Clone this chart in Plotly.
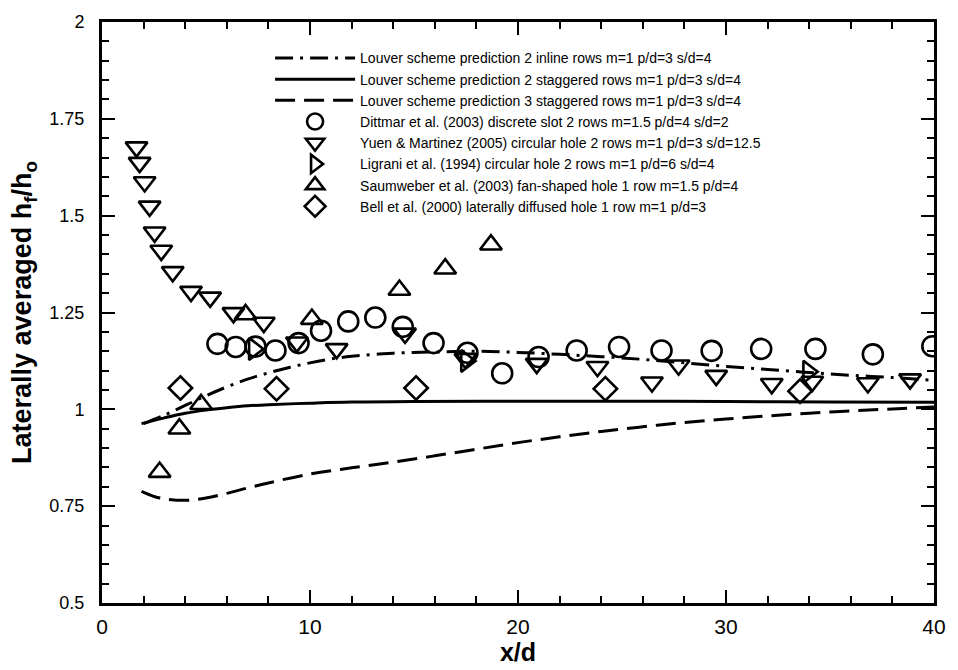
import plotly.graph_objects as go

# ---- Louver scheme predictions (x/d vs laterally averaged h_f/h_o) ----
inline2_x = [2, 3, 4, 5, 6, 7, 8, 9, 10, 11, 12, 14, 16, 18, 20, 22, 24, 26, 28, 30, 32, 34, 36, 38, 40]
inline2_y = [0.963, 0.985, 1.010, 1.035, 1.058, 1.078, 1.094, 1.108, 1.120, 1.130, 1.137, 1.145, 1.148,
             1.150, 1.147, 1.142, 1.136, 1.129, 1.120, 1.111, 1.103, 1.095, 1.088, 1.082, 1.075]

stag2_x = [1.9, 3, 4, 5, 6, 7, 8, 10, 12, 15, 20, 25, 30, 35, 40]
stag2_y = [0.963, 0.978, 0.990, 0.998, 1.004, 1.009, 1.012, 1.016, 1.019, 1.020, 1.021, 1.021, 1.020, 1.019, 1.018]

stag3_x = [1.9, 2.5, 3, 4, 5, 6, 7, 8, 10, 12, 14, 16, 18, 20, 22, 24, 26, 28, 30, 32, 34, 36, 38, 40]
stag3_y = [0.788, 0.775, 0.769, 0.765, 0.771, 0.783, 0.797, 0.810, 0.833, 0.849, 0.864, 0.880, 0.897,
           0.914, 0.929, 0.943, 0.955, 0.966, 0.975, 0.983, 0.990, 0.996, 1.001, 1.006]

# ---- Experimental data ----
dittmar_x = [5.55, 6.43, 7.38, 8.34, 9.45, 10.53, 11.84, 13.14, 14.46, 15.94, 17.57, 19.24, 20.99,
             22.82, 24.86, 26.9, 29.31, 31.69, 34.3, 37.06, 39.92]
dittmar_y = [1.169, 1.161, 1.162, 1.152, 1.171, 1.203, 1.227, 1.237, 1.213, 1.171, 1.146, 1.093, 1.135,
             1.152, 1.161, 1.152, 1.151, 1.156, 1.156, 1.142, 1.163]

yuen_x = [1.66, 1.81, 2.05, 2.29, 2.53, 2.85, 3.40, 4.28, 5.20, 6.32, 7.78, 9.37, 11.28, 14.57, 17.47,
          20.9, 23.82, 26.44, 27.72, 29.53, 32.2, 34.15, 36.82, 38.85]
yuen_y = [1.677, 1.637, 1.587, 1.524, 1.457, 1.410, 1.355, 1.304, 1.289, 1.249, 1.224, 1.173, 1.156,
          1.196, 1.131, 1.118, 1.110, 1.070, 1.114, 1.087, 1.066, 1.072, 1.068, 1.078]

ligrani_x = [7.30, 17.5, 33.95]
ligrani_y = [1.156, 1.125, 1.097]

saum_x = [2.77, 3.72, 4.76, 6.9, 10.09, 14.3, 16.5, 18.7]
saum_y = [0.838, 0.950, 1.013, 1.245, 1.233, 1.308, 1.363, 1.425]

bell_x = [3.77, 8.39, 15.1, 24.2, 33.56]
bell_y = [1.055, 1.053, 1.055, 1.053, 1.047]

names = [
    "Louver scheme prediction 2 inline rows m=1 p/d=3 s/d=4",
    "Louver scheme prediction 2 staggered rows m=1 p/d=3 s/d=4",
    "Louver scheme prediction 3 staggered rows m=1 p/d=3 s/d=4",
    "Dittmar et al. (2003) discrete slot 2 rows m=1.5 p/d=4 s/d=2",
    "Yuen & Martinez (2005) circular hole 2 rows m=1 p/d=3 s/d=12.5",
    "Ligrani et al. (1994) circular hole 2 rows m=1 p/d=6 s/d=4",
    "Saumweber et al. (2003) fan-shaped hole 1 row m=1.5 p/d=4",
    "Bell et al. (2000) laterally diffused hole 1 row m=1 p/d=3",
]

INK = "black"
FONT = "Liberation Sans, Arial, Helvetica, sans-serif"
fig = go.Figure()

def add_line(x, y, name, dash):
    fig.add_trace(go.Scatter(x=x, y=y, mode="lines", name=name,
                             line=dict(color=INK, width=3, dash=dash, shape="spline")))

def add_markers(x, y, name, symbol, size):
    fig.add_trace(go.Scatter(x=x, y=y, mode="markers", name=name,
                             marker=dict(symbol=symbol, size=size, color=INK,
                                         line=dict(color=INK, width=2.6))))

add_line(inline2_x, inline2_y, names[0], "18px,7px,3px,7px")
add_line(stag2_x, stag2_y, names[1], "solid")
add_line(stag3_x, stag3_y, names[2], "20px,9px")
add_markers(dittmar_x, dittmar_y, names[3], "circle-open", 20)
add_markers(yuen_x, yuen_y, names[4], "triangle-down-open", 19)
add_markers(ligrani_x, ligrani_y, names[5], "triangle-right-open", 19)
add_markers(saum_x, saum_y, names[6], "triangle-up-open", 19)
add_markers(bell_x, bell_y, names[7], "diamond-open", 18)

axis_common = dict(
    showline=True, linecolor=INK, linewidth=3, mirror="ticks",
    ticks="inside", ticklen=13, tickwidth=2, tickcolor=INK,
    showgrid=False, zeroline=False,
)

fig.update_xaxes(
    range=[0, 40], tick0=0, dtick=10,
    minor=dict(dtick=2, ticks="inside", ticklen=7, tickwidth=1.5, tickcolor=INK, showgrid=False),
    tickfont=dict(family=FONT, size=21, color=INK),
    ticklabelstandoff=3,
    title=dict(text="<b>x/d</b>", font=dict(family=FONT, size=25, color=INK), standoff=2),
    **axis_common,
)
fig.update_yaxes(
    range=[0.5, 2], tick0=0.5, dtick=0.25,
    tickvals=[0.5, 0.75, 1, 1.25, 1.5, 1.75, 2],
    ticktext=["0.5", "0.75", "1", "1.25", "1.5", "1.75", "2"],
    minor=dict(dtick=0.05, ticks="inside", ticklen=7, tickwidth=1.5, tickcolor=INK, showgrid=False),
    tickfont=dict(family=FONT, size=18, color=INK),
    ticklabelstandoff=11,
    title=dict(text="<b>Laterally averaged h<sub>f</sub>/h<sub>o</sub></b>",
               font=dict(family=FONT, size=27, color=INK), standoff=10),
    **axis_common,
)

fig.update_layout(
    width=958, height=670,
    margin=dict(l=102, r=18, t=18, b=59),
    paper_bgcolor="white", plot_bgcolor="white",
    showlegend=True,
    legend=dict(
        x=0.202, y=0.965, xanchor="left", yanchor="top",
        bgcolor="rgba(0,0,0,0)", borderwidth=0,
        font=dict(family=FONT, size=14, color=INK),
        itemwidth=80, tracegroupgap=0,
    ),
)

fig.write_html("out.html")
